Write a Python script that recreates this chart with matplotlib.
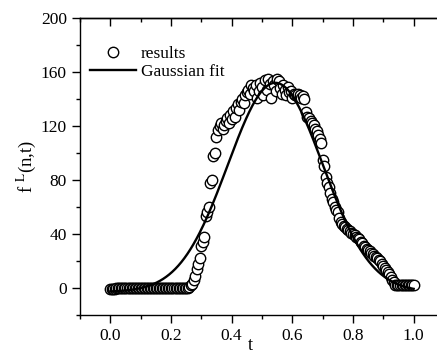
import numpy as np
import matplotlib.pyplot as plt

plt.rcParams['font.family'] = 'Liberation Serif'
plt.rcParams['mathtext.fontset'] = 'stix'

# simulation results (t, f^L)
t_res = [
    0.000, 0.005, 0.010, 0.015, 0.020, 0.025, 0.030, 0.035, 0.040, 0.045,
    0.050, 0.055, 0.060, 0.065, 0.070, 0.075, 0.080, 0.085, 0.090, 0.095,
    0.100, 0.105, 0.110, 0.115, 0.120, 0.125, 0.130, 0.135, 0.140, 0.145,
    0.150, 0.155, 0.160, 0.165, 0.170, 0.175, 0.180, 0.185, 0.190, 0.195,
    0.200, 0.205, 0.210, 0.215, 0.220, 0.225, 0.230, 0.235, 0.240, 0.245,
    0.250, 0.255, 0.260, 0.265, 0.270, 0.275, 0.280, 0.285, 0.290, 0.295,
    0.300, 0.305, 0.310, 0.315, 0.320, 0.325, 0.330, 0.335, 0.340, 0.345,
    0.350, 0.355, 0.360, 0.365, 0.370, 0.375, 0.380, 0.385, 0.390, 0.395,
    0.400, 0.405, 0.410, 0.415, 0.420, 0.425, 0.430, 0.435, 0.440, 0.445,
    0.450, 0.455, 0.460, 0.465, 0.470, 0.475, 0.480, 0.485, 0.490, 0.495,
    0.500, 0.505, 0.510, 0.515, 0.520, 0.525, 0.530, 0.535, 0.540, 0.545,
    0.550, 0.555, 0.560, 0.565, 0.570, 0.575, 0.580, 0.585, 0.590, 0.595,
    0.600, 0.605, 0.610, 0.615, 0.620, 0.625, 0.630, 0.635, 0.640, 0.645,
    0.650, 0.655, 0.660, 0.665, 0.670, 0.675, 0.680, 0.685, 0.690, 0.695,
    0.700, 0.705, 0.710, 0.715, 0.720, 0.725, 0.730, 0.735, 0.740, 0.745,
    0.750, 0.755, 0.760, 0.765, 0.770, 0.775, 0.780, 0.785, 0.790, 0.795,
    0.800, 0.805, 0.810, 0.815, 0.820, 0.825, 0.830, 0.835, 0.840, 0.845,
    0.850, 0.855, 0.860, 0.865, 0.870, 0.875, 0.880, 0.885, 0.890, 0.895,
    0.900, 0.905, 0.910, 0.915, 0.920, 0.925, 0.930, 0.935, 0.940, 0.945,
    0.950, 0.955, 0.960, 0.965, 0.970, 0.975, 0.980, 0.985, 0.990, 0.995,
    1.000,
]
f_res = [
    -1, -1, -1, -1, 0, 0, 0, 0, 0, 0,
    0, 0, 0, 0, 0, 0, 0, 0, 0, 0,
    0, 0, 0, 0, 0, 0, 0, 0, 0, 0,
    0, 0, 0, 0, 0, 0, 0, 0, 0, 0,
    0, 0, 0, 0, 0, 0, 0, 0, 0, 0,
    0, 0, 1, 2, 3, 6, 9, 14, 18, 22,
    31, 34, 38, 53, 56, 60, 78, 80, 98, 100,
    112, 117, 120, 122, 118, 121, 124, 126, 122, 128,
    125, 131, 127, 133, 136, 132, 138, 140, 137, 143,
    145, 147, 144, 150, 148, 146, 150, 141, 146, 152,
    149, 143, 154, 147, 155, 151, 141, 153, 150, 146,
    155, 153, 148, 144, 150, 147, 143, 149, 145, 146,
    141, 144, 143, 142, 144, 143, 141, 142, 140, 130,
    127, 126, 124, 122, 121, 118, 116, 113, 110, 107,
    95, 90, 82, 78, 75, 70, 66, 64, 60, 58,
    56, 52, 49, 47, 46, 45, 44, 43, 42, 41,
    40, 39, 38, 37, 36, 34, 33, 31, 30, 29,
    28, 27, 26, 25, 24, 23, 22, 21, 20, 18,
    16, 15, 13, 12, 10, 8, 6, 4, 2, 2,
    2, 2, 2, 2, 2, 2, 2, 2, 2, 2,
    2,
]

# Gaussian fit parameters: y0 + A*exp(-(t-tc)^2/(2w^2))
y0 = -3.0
A = 155.0
tc = 0.544
w = 0.157

t_fit = np.linspace(0.0, 1.0, 300)
f_fit = y0 + A * np.exp(-(t_fit - tc) ** 2 / (2 * w ** 2))

fig = plt.figure(figsize=(4.37, 3.53), dpi=100)
ax = fig.add_axes([0.183, 0.108, 0.833, 0.841])

ax.plot(t_res, f_res, 'o', ms=7.5, mfc='white', mec='black', mew=1.0,
        label='results', zorder=2)
ax.plot(t_fit, f_fit, '-', color='black', lw=1.7, label='Gaussian fit', zorder=3)

ax.set_xlim(-0.1, 1.1)
ax.set_ylim(-20, 200)
ax.set_xticks([0.0, 0.2, 0.4, 0.6, 0.8, 1.0])
ax.set_xticks(np.arange(-0.1, 1.11, 0.1), minor=True)
ax.set_yticks([0, 40, 80, 120, 160, 200])
ax.set_yticks(np.arange(-20, 201, 20), minor=True)
ax.set_xticklabels(['0.0', '0.2', '0.4', '0.6', '0.8', '1.0'])

ax.tick_params(axis='both', which='major', labelsize=12.5, length=6, width=1,
               direction='out', top=False, right=False)
ax.tick_params(axis='both', which='minor', length=3, width=1,
               direction='out', top=False, right=False)
ax.spines['right'].set_visible(False)
for s in ('left', 'top', 'bottom'):
    ax.spines[s].set_linewidth(1.0)

# top axis: inward ticks, no labels
top = ax.secondary_xaxis('top')
top.set_xticks([0.0, 0.2, 0.4, 0.6, 0.8, 1.0])
top.set_xticks(np.arange(-0.1, 1.11, 0.1), minor=True)
top.tick_params(which='major', direction='in', length=6, width=1, labeltop=False)
top.tick_params(which='minor', direction='in', length=3, width=1)
top.spines['top'].set_linewidth(1.0)

ax.set_xlabel('t', fontsize=13)
ax.xaxis.set_label_coords(0.467, -0.075)
ax.set_ylabel(r'f $^{\rm L}$(n,t)', fontsize=13.5, labelpad=2)

ax.legend(loc='upper left', bbox_to_anchor=(0.0, 0.94), frameon=False,
          fontsize=12.5, handlelength=2.6, handletextpad=0.3,
          labelspacing=0.1, borderaxespad=0.2)

fig.savefig('out.png', dpi=100)
